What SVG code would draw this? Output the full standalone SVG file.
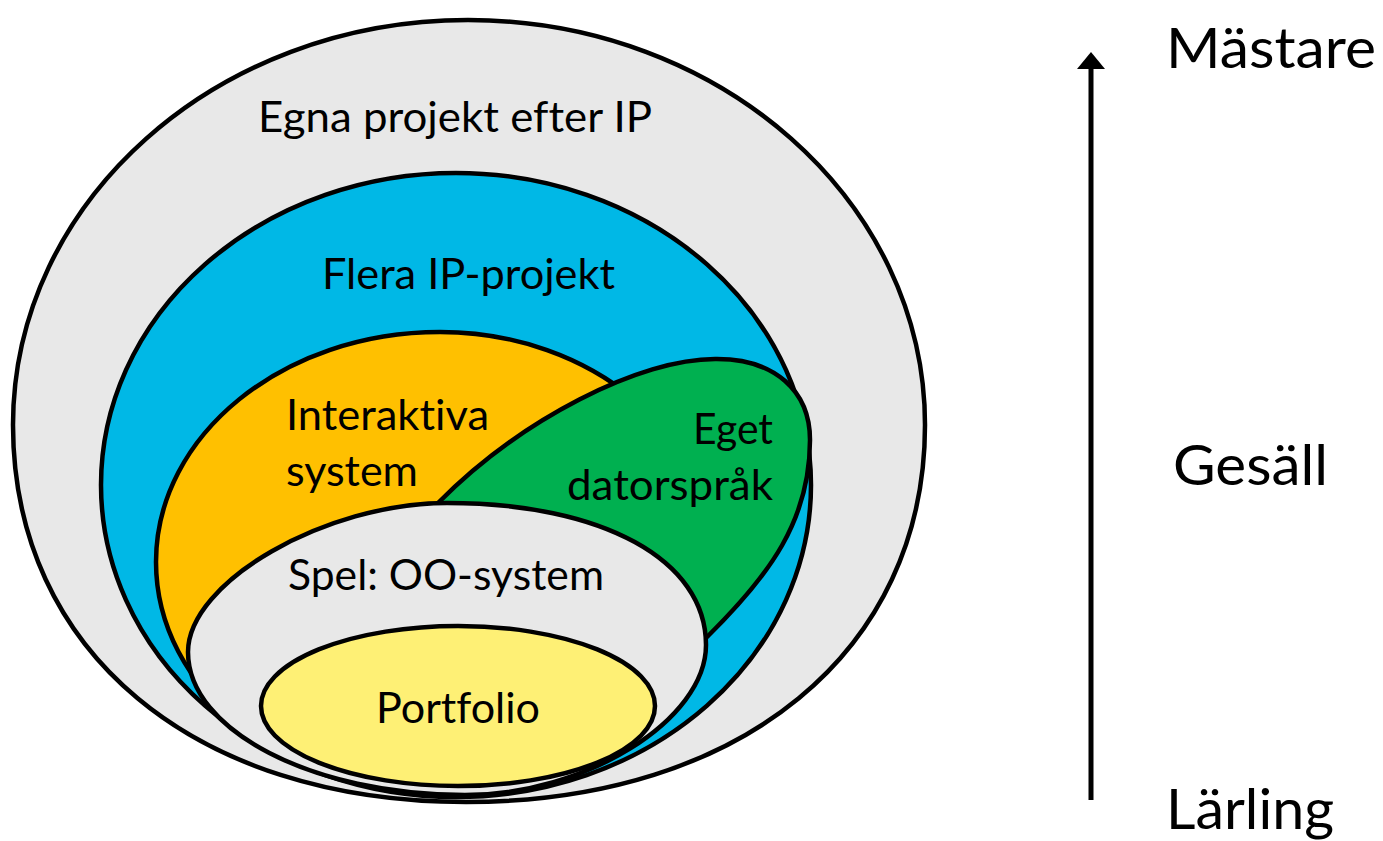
<svg xmlns="http://www.w3.org/2000/svg" width="1383" height="841" viewBox="0 0 1383 841">
<style>
.shape{stroke:#000;stroke-width:4.5;stroke-linejoin:round}
.lbl{font-family:Lato,"Open Sans","Liberation Sans",sans-serif;font-size:42px;fill:#000;font-variant-ligatures:none}
.big{font-family:Lato,"Open Sans","Liberation Sans",sans-serif;font-size:56px;fill:#000;font-variant-ligatures:none}
</style>
<defs>
<marker id="ah" markerUnits="userSpaceOnUse" markerWidth="17" markerHeight="28" viewBox="0 0 17 28" refX="0" refY="14" orient="auto">
<path d="M0,0 L17,14 L0,28 Z" fill="#000"/>
</marker>
</defs>
<rect width="1383" height="841" fill="#fff"/>
<g id="egna">
<path class="shape" fill="#E8E8E8" d="M13,425 C13,201.3 216.7,20 468,20 C720.4,20 925,201.3 925,425 C925,651 741.4,802 466,802 C194.2,802 13,651 13,425 Z"/>
<text class="lbl" x="258" y="132" textLength="394" lengthAdjust="spacingAndGlyphs">Egna projekt efter IP</text>
</g>
<g id="flera">
<ellipse class="shape" fill="#00B8E6" cx="456" cy="485" rx="355" ry="312"/>
<text class="lbl" x="322" y="289" textLength="293" lengthAdjust="spacingAndGlyphs">Flera IP-projekt</text>
</g>
<g id="interaktiva">
<path class="shape" fill="#FFC000" d="M156,562 C156,435 283.1,332 440,332 C591.9,332 715,435 715,562 C715,677 577.5,792 440,792 C283.1,792 156,689 156,562 Z"/>
<text class="lbl" x="286" y="430" textLength="203" lengthAdjust="spacingAndGlyphs">Interaktiva</text>
<text class="lbl" x="286" y="486" textLength="132" lengthAdjust="spacingAndGlyphs">system</text>
</g>
<g id="eget">
<path class="shape" fill="#00B050" d="M438,503 C520,420 640,358 717,359 C774.7,359 810,390.8 810,440 C810,520 770,575 707,637 L650,680 L450,560 Z"/>
<text class="lbl" x="693" y="444" textLength="80" lengthAdjust="spacingAndGlyphs">Eget</text>
<text class="lbl" x="567" y="500" textLength="206" lengthAdjust="spacingAndGlyphs">datorspråk</text>
</g>
<g id="spel">
<path class="shape" fill="#E8E8E8" d="M188,652 C188,582 325.3,503 447,503 C602.4,503 706,559.8 706,645 C706,720 585.5,795 465,795 C312.7,795 188,730.7 188,652 Z"/>
<text class="lbl" x="288" y="590" textLength="316" lengthAdjust="spacingAndGlyphs">Spel: OO-system</text>
</g>
<g id="portfolio">
<ellipse class="shape" fill="#FEF075" cx="458" cy="706" rx="197" ry="80"/>
<text class="lbl" x="376" y="723" textLength="164" lengthAdjust="spacingAndGlyphs">Portfolio</text>
</g>
<g id="connectors">
<line x1="1091" y1="800" x2="1091" y2="69" stroke="#000" stroke-width="5" marker-end="url(#ah)"/>
</g>
<g id="levels">
<text class="big" x="1166" y="68" textLength="210" lengthAdjust="spacingAndGlyphs">Mästare</text>
<text class="big" x="1173" y="485" textLength="155" lengthAdjust="spacingAndGlyphs">Gesäll</text>
<text class="big" x="1166" y="829" textLength="168" lengthAdjust="spacingAndGlyphs">Lärling</text>
</g>
</svg>
